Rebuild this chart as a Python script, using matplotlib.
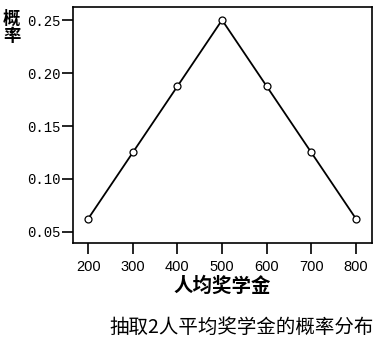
import matplotlib
matplotlib.use("Agg")
from matplotlib import pyplot as plt

plt.rcParams['font.family'] = ['Noto Sans CJK SC', 'DejaVu Sans']

scholarship = [200, 300, 400, 500, 600, 700, 800]
prob = [0.0625, 0.125, 0.1875, 0.25, 0.1875, 0.125, 0.0625]
yticks = [0.05, 0.10, 0.15, 0.20, 0.25]
ytick_labels = ["0.05", "0.10", "0.15", "0.20", "0.25"]

W, H = 379, 343
fig = plt.figure(figsize=(3.79, 3.43), dpi=100)
ax = fig.add_axes([73 / W, 1 - 243 / H, 299 / W, 236 / H])

ax.plot(scholarship, prob, 'k-', linewidth=1.3, marker='o', markersize=5,
        markerfacecolor='white', markeredgecolor='black', markeredgewidth=0.9)

ax.set_xlim(166, 836)
ax.set_ylim(0.0396, 0.2623)
ax.set_xticks(scholarship)
ax.set_xticklabels([str(v) for v in scholarship], fontfamily='Liberation Sans', fontsize=10.5)
ax.set_yticks(yticks)
ax.set_yticklabels(ytick_labels, fontfamily='Liberation Mono', fontsize=10)
ax.tick_params(direction='out', length=8, width=1.2, color='black')
ax.tick_params(axis='y', pad=1)
ax.tick_params(axis='x', pad=4)
for s in ax.spines.values():
    s.set_linewidth(1.2)

ax.set_xlabel("人均奖学金", fontsize=14, fontweight='bold', labelpad=2)
# vertical y label, one character per line
fig.text(11.5 / W, 1 - 19 / H, "概", fontsize=12.5, fontweight='bold', ha='center', va='center')
fig.text(11.5 / W, 1 - 36 / H, "率", fontsize=12.5, fontweight='bold', ha='center', va='center')
fig.text(242 / W, 1 - 327 / H, "抽取2人平均奖学金的概率分布", fontsize=14, ha='center', va='center')

fig.savefig("out.png", dpi=100)
